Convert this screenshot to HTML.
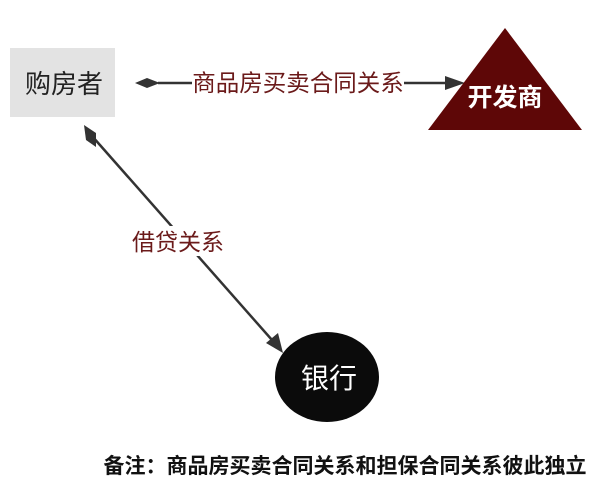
<!DOCTYPE html>
<html><head><meta charset="utf-8"><style>
body{margin:0;background:#fff;width:600px;height:491px;overflow:hidden;}
svg text{font-family:"Liberation Sans","Noto Sans CJK SC",sans-serif;}
</style></head><body>
<svg width="600" height="491" viewBox="0 0 600 491" xmlns="http://www.w3.org/2000/svg">
<rect x="10" y="48" width="105" height="69" fill="#e3e3e3"/>
<text x="64" y="93" font-size="26" text-anchor="middle" fill="#222">购房者</text>
<line x1="158" y1="83" x2="192" y2="83" stroke="#333" stroke-width="2.5"/>
<line x1="404" y1="83" x2="450" y2="83" stroke="#333" stroke-width="2.5"/>
<polygon points="135,83 147,78 160,83 147,88" fill="#333"/>
<polygon points="465,83 445,76 445,90" fill="#333"/>
<text x="298" y="91" font-size="23.5" text-anchor="middle" fill="#6b1a1a">商品房买卖合同关系</text>
<polygon points="505,28 582,130 428,130" fill="#5e0707"/>
<text x="505" y="106" font-size="25" text-anchor="middle" fill="#fff" font-weight="bold">开发商</text>
<line x1="92" y1="136" x2="272" y2="340" stroke="#333" stroke-width="2.5"/>
<polygon points="84,125 96,133 96,147 86,140" fill="#333"/>
<polygon points="283,353 266,343 278,333" fill="#333"/>
<rect x="127" y="226" width="100" height="30" fill="#fff"/>
<text x="178" y="250" font-size="23" text-anchor="middle" fill="#6b1a1a">借贷关系</text>
<ellipse cx="327" cy="377" rx="52" ry="45" fill="#0b0b0b"/>
<text x="329" y="388" font-size="28" text-anchor="middle" fill="#fff">银行</text>
<text x="345" y="473" font-size="21" text-anchor="middle" fill="#111" font-weight="bold">备注：商品房买卖合同关系和担保合同关系彼此独立</text>
</svg>
</body></html>
